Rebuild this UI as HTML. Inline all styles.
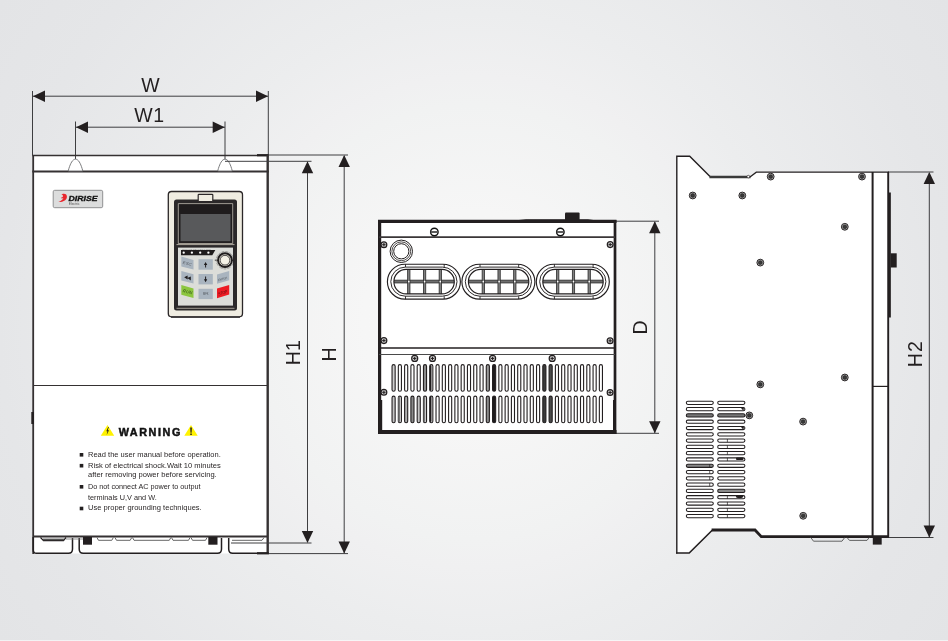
<!DOCTYPE html>
<html lang="en">
<head>
<meta charset="utf-8">
<title>Dimension drawing</title>
<style>
html,body{margin:0;padding:0;background:#ececed;}
body{width:948px;height:641px;overflow:hidden;font-family:"Liberation Sans",Arial,sans-serif;}
svg{display:block;will-change:transform;}
</style>
</head>
<body>
<svg width="948" height="641" viewBox="0 0 948 641">
<defs>
<radialGradient id="bg" gradientUnits="userSpaceOnUse" cx="474" cy="322" r="572">
<stop offset="0" stop-color="#f7f7f7"/>
<stop offset="0.194" stop-color="#f6f6f6"/>
<stop offset="0.38" stop-color="#f1f2f2"/>
<stop offset="0.43" stop-color="#f0f0f1"/>
<stop offset="0.54" stop-color="#ecedee"/>
<stop offset="0.83" stop-color="#e5e6e8"/>
<stop offset="1" stop-color="#e3e4e6"/>
</radialGradient>
</defs>
<rect x="0" y="0" width="948" height="641" fill="url(#bg)" stroke="none" stroke-width="1" rx="0" />
<rect x="0" y="640" width="948" height="1" fill="#fff" stroke="none" stroke-width="1" rx="0" opacity="0.55"/>
<g id="front">
<rect x="33" y="155.5" width="235" height="398" fill="#fff" stroke="none" stroke-width="1" rx="0" />
<line x1="32.5" y1="91" x2="32.5" y2="155" stroke="#3e3e40" stroke-width="1" />
<line x1="268.3" y1="91" x2="268.3" y2="155" stroke="#3e3e40" stroke-width="1" />
<line x1="33" y1="96.2" x2="268" y2="96.2" stroke="#3e3e40" stroke-width="1" />
<polygon points="33,96.2 45,90.5 45,101.9" fill="#231f20" stroke="none" stroke-width="1"/>
<polygon points="268,96.2 256,90.5 256,101.9" fill="#231f20" stroke="none" stroke-width="1"/>
<line x1="75.5" y1="121.5" x2="75.5" y2="159" stroke="#3e3e40" stroke-width="1" />
<line x1="225" y1="121.5" x2="225" y2="159" stroke="#3e3e40" stroke-width="1" />
<line x1="76" y1="127.2" x2="225" y2="127.2" stroke="#3e3e40" stroke-width="1" />
<polygon points="76,127.2 88,121.5 88,132.9" fill="#231f20" stroke="none" stroke-width="1"/>
<polygon points="224.7,127.2 212.7,121.5 212.7,132.9" fill="#231f20" stroke="none" stroke-width="1"/>
<line x1="32.3" y1="155.5" x2="268.8" y2="155.5" stroke="#353132" stroke-width="1.6" />
<line x1="257" y1="155.2" x2="268.8" y2="155.2" stroke="#231f20" stroke-width="2.2" />
<line x1="32.3" y1="171.5" x2="268.8" y2="171.5" stroke="#353132" stroke-width="1.8" />
<line x1="33.2" y1="155" x2="33.2" y2="554" stroke="#353132" stroke-width="1.8" />
<line x1="267.7" y1="155" x2="267.7" y2="554" stroke="#353132" stroke-width="2.4" />
<line x1="33" y1="385.5" x2="268" y2="385.5" stroke="#353132" stroke-width="1.2" />
<line x1="33" y1="536.5" x2="268" y2="536.5" stroke="#353132" stroke-width="2.2" />
<line x1="32.6" y1="412" x2="32.6" y2="424" stroke="#231f20" stroke-width="2.6" />
<path d="M68.2,171 L68.9,168.5 C70.5,163.5 72.5,159.2 75.5,159.2 C78.5,159.2 80.5,163.5 82.1,168.5 L82.8,171 Z" fill="#fff" stroke="#6d6e70" stroke-width="0.9"/>
<path d="M217.7,171 L218.4,168.5 C220,163.5 222,159.2 225,159.2 C228,159.2 230,163.5 231.6,168.5 L232.3,171 Z" fill="#fff" stroke="#6d6e70" stroke-width="0.9"/>
<line x1="225" y1="161.3" x2="311.5" y2="161.3" stroke="#3e3e40" stroke-width="1" />
<line x1="268" y1="155" x2="348" y2="155" stroke="#3e3e40" stroke-width="1" />
<line x1="307.5" y1="162" x2="307.5" y2="542" stroke="#3e3e40" stroke-width="1" />
<line x1="344.2" y1="156" x2="344.2" y2="553" stroke="#3e3e40" stroke-width="1" />
<polygon points="307.5,161.3 301.8,173.3 313.2,173.3" fill="#231f20" stroke="none" stroke-width="1"/>
<polygon points="344.2,155 338.5,167 349.9,167" fill="#231f20" stroke="none" stroke-width="1"/>
<line x1="231" y1="543" x2="311.5" y2="543" stroke="#3e3e40" stroke-width="1" />
<line x1="268" y1="553.6" x2="348" y2="553.6" stroke="#3e3e40" stroke-width="1" />
<polygon points="307.5,543 301.8,531 313.2,531" fill="#231f20" stroke="none" stroke-width="1"/>
<polygon points="344.2,553.6 338.5,541.6 349.9,541.6" fill="#231f20" stroke="none" stroke-width="1"/>
<path d="M33.2,537 V550 Q33.2,553.3 36.5,553.3 H68.5 Q72.5,553.3 72.5,549 V538" fill="none" stroke="#231f20" stroke-width="1.5"/>
<path d="M79.2,538 V549 Q79.2,553.3 83.2,553.3 H217.5 Q221.5,553.3 221.5,549 V538" fill="none" stroke="#231f20" stroke-width="1.5"/>
<path d="M228.7,538 V549 Q228.7,553.3 232.7,553.3 H268" fill="none" stroke="#231f20" stroke-width="1.5"/>
<line x1="257" y1="553.3" x2="268.8" y2="553.3" stroke="#231f20" stroke-width="2.2" />
<path d="M40.5,537.5 L43.5,540.6 H63.5 L66,537.5" fill="none" stroke="#231f20" stroke-width="1.2"/>
<path d="M43,539.4 H64" fill="none" stroke="#555" stroke-width="1.6"/>
<path d="M97,537.6 L98.5,540.3 H111.8 L113.3,537.6" fill="none" stroke="#555" stroke-width="0.9"/>
<path d="M115,537.6 L116.5,540.3 H130.2 L131.7,537.6" fill="none" stroke="#555" stroke-width="0.9"/>
<path d="M132.5,537.6 L134.0,540.3 H169.3 L170.8,537.6" fill="none" stroke="#555" stroke-width="0.9"/>
<path d="M171.5,537.6 L173.0,540.3 H188.5 L190,537.6" fill="none" stroke="#555" stroke-width="0.9"/>
<path d="M191,537.6 L192.5,540.3 H205.5 L207,537.6" fill="none" stroke="#555" stroke-width="0.9"/>
<path d="M232,540.3 H262 L264,537.6" fill="none" stroke="#555" stroke-width="0.9"/>
<line x1="66" y1="539" x2="83" y2="539" stroke="#777" stroke-width="0.8" />
<rect x="83" y="537" width="9" height="7.7" fill="#231f20" stroke="none" stroke-width="1" rx="0" />
<rect x="208.3" y="537" width="9.2" height="7.7" fill="#231f20" stroke="none" stroke-width="1" rx="0" />
<rect x="53.2" y="190.3" width="49.5" height="17.4" fill="#dcdddd" stroke="#8f9092" stroke-width="1" rx="1.5" />
<path d="M62.3,194 C65.5,193.2 67.6,195 66.8,197.8 C66,200.6 62.5,202.4 58.4,202 C60.8,201.2 62.8,199.8 63.4,198 C62.6,198.6 61.2,198.6 60.8,197.8 C62.4,197.6 63.4,196.4 62.9,195.4 C62.6,194.8 62,194.4 61.2,194.6 Z" fill="#e8262d"/>
<text x="68.6" y="201.3" font-family="Liberation Sans, Arial, sans-serif" font-weight="bold" font-style="italic" font-size="7" textLength="29" lengthAdjust="spacingAndGlyphs" fill="#111" stroke="#111" stroke-width="0.3">DIRISE</text>
<text x="68.8" y="204.9" font-family="Liberation Sans, Arial, sans-serif" font-size="3.1" textLength="10.8" lengthAdjust="spacingAndGlyphs" fill="#555">Electric</text>
<rect x="168.3" y="191.5" width="74.2" height="125.3" fill="#efece1" stroke="#2b2728" stroke-width="1.3" rx="3.2" />
<line x1="171" y1="317.2" x2="240" y2="317.2" stroke="#2b2728" stroke-width="1.2" />
<rect x="174" y="199.4" width="63" height="111" fill="#2b2829" stroke="none" stroke-width="1" rx="2.5" />
<rect x="198.2" y="194.3" width="14.6" height="7.2" fill="#efece1" stroke="#2b2728" stroke-width="1.2" rx="0.8" />
<path d="M178.3,243.5 V203.6 H232.7 V243.5 Z" fill="none" stroke="#cfcabd" stroke-width="0.7"/>
<rect x="179" y="204.6" width="53" height="38" fill="#1f1c1d" stroke="none" stroke-width="1" rx="0" />
<rect x="180.5" y="214" width="50" height="27.2" fill="#58595b" stroke="none" stroke-width="1" rx="0" />
<line x1="176.5" y1="244.6" x2="234.5" y2="244.6" stroke="#bdb8ab" stroke-width="0.9" />
<rect x="178" y="247.6" width="55" height="58" fill="#dcddd9" stroke="none" stroke-width="1" rx="0" />
<line x1="176.5" y1="308.3" x2="234.5" y2="308.3" stroke="#bdb8ab" stroke-width="0.8" />
<polygon points="181,250 215.3,250 212.3,255.2 181,255.2" fill="#1f1c1d" stroke="none" stroke-width="1"/>
<circle cx="183.7" cy="252.7" r="1.15" fill="#fff"/>
<circle cx="191.9" cy="252.7" r="1.15" fill="#fff"/>
<circle cx="200.2" cy="252.7" r="1.15" fill="#fff"/>
<circle cx="208.4" cy="252.7" r="1.15" fill="#fff"/>
<text x="182" y="249.6" font-family="Liberation Sans, Arial, sans-serif" font-size="1.8" textLength="29" lengthAdjust="spacingAndGlyphs" fill="#8a8a8a">RUN FWD REV LOCAL TRIP</text>
<circle cx="225" cy="260.2" r="8.7" fill="none" stroke="#1f1c1d" stroke-width="0.7" stroke-dasharray="0.5 0.9"/>
<circle cx="225" cy="260.2" r="7.9" fill="#1f1c1d"/>
<circle cx="225" cy="260.2" r="5.9" fill="#efece1"/>
<circle cx="225" cy="260.2" r="4.9" fill="none" stroke="#1f1c1d" stroke-width="0.8"/>
<circle cx="225" cy="260.2" r="3.7" fill="#f4f1e6"/>
<line x1="214.8" y1="260.2" x2="216.6" y2="260.2" stroke="#1f1c1d" stroke-width="0.8" />
<polygon points="181.3,256.5 193.5,260 193.5,269.6 181.3,266.6" fill="#a9b4bf" stroke="none" stroke-width="1"/>
<polygon points="181.3,271 193.5,274.2 193.5,283.6 181.3,280.6" fill="#a9b4bf" stroke="none" stroke-width="1"/>
<polygon points="181.3,285 193.5,288.6 193.5,298 181.3,294.8" fill="#8cc63f" stroke="none" stroke-width="1"/>
<rect x="198.5" y="259.2" width="14.3" height="10.5" fill="#a9b4bf" stroke="none" stroke-width="1" rx="0" />
<rect x="198.5" y="274" width="14.3" height="10.4" fill="#a9b4bf" stroke="none" stroke-width="1" rx="0" />
<rect x="198.5" y="288.8" width="14.3" height="10.3" fill="#a9b4bf" stroke="none" stroke-width="1" rx="0" />
<polygon points="217,274.6 229.2,271 229.2,280.2 217,283.8" fill="#a9b4bf" stroke="none" stroke-width="1"/>
<polygon points="217,288.6 229.2,285 229.2,294.5 217,298.2" fill="#ed1c24" stroke="none" stroke-width="1"/>
<text transform="translate(182.6,263.6) rotate(15)" font-family="Liberation Sans, Arial, sans-serif" font-size="3.6" font-style="italic" textLength="9" lengthAdjust="spacingAndGlyphs" fill="#4a4f55">ESC</text>
<text transform="translate(182.6,291.9) rotate(15)" font-family="Liberation Sans, Arial, sans-serif" font-size="4.4" font-style="italic" textLength="9.4" lengthAdjust="spacingAndGlyphs" fill="#2f4a17">RUN</text>
<text transform="translate(218.2,281.3) rotate(-16)" font-family="Liberation Sans, Arial, sans-serif" font-size="3.1" textLength="9.6" lengthAdjust="spacingAndGlyphs" fill="#4a4f55">ENTER</text>
<text transform="translate(218.4,295.4) rotate(-16)" font-family="Liberation Sans, Arial, sans-serif" font-size="4.2" font-style="italic" textLength="9.6" lengthAdjust="spacingAndGlyphs" fill="#5a0d10">STOP</text>
<text x="203" y="295.2" font-family="Liberation Sans, Arial, sans-serif" font-size="2.8" textLength="5.4" lengthAdjust="spacingAndGlyphs" fill="#4a4f55">MFK</text>
<path d="M205.6,262 L207.3,265 H206.1 V267.6 H205.1 V265 H203.9 Z" fill="#1f1c1d"/>
<path d="M205.6,282.2 L207.3,279.2 H206.1 V276.4 H205.1 V279.2 H203.9 Z" fill="#1f1c1d"/>
<path d="M184.2,277.2 L187.6,275.6 V279.6 Z M187.4,278 L190.8,276.4 V280.4 Z" fill="#1f1c1d"/>
<polygon points="107.5,425 114.2,435.8 100.8,435.8" fill="#fff200" stroke="none" stroke-width="1"/>
<polygon points="191,425 197.7,435.8 184.3,435.8" fill="#fff200" stroke="none" stroke-width="1"/>
<path d="M108.2,426.9 L106.3,431.3 H107.5 L106.6,434.9 L109,430.3 H107.7 L108.9,426.9 Z" fill="#231f20"/>
<path d="M190.2,427.6 H191.9 L191.6,432.7 H190.5 Z M190.3,433.4 H191.8 V434.9 H190.3 Z" fill="#231f20"/>
<text x="118.7" y="435.9" font-family="Liberation Sans, Arial, sans-serif" font-weight="bold" font-size="10.8" textLength="61.6" lengthAdjust="spacing" fill="#111" stroke="#111" stroke-width="0.5">WARNING</text>
<rect x="79.7" y="453.0" width="3.6" height="3.6" fill="#231f20" stroke="none" stroke-width="1" rx="0" />
<text x="88" y="456.7" font-family="Liberation Sans, Arial, sans-serif" font-size="7.6" textLength="132.8" lengthAdjust="spacingAndGlyphs" fill="#2a2627">Read the user manual before operation.</text>
<rect x="79.7" y="463.90000000000003" width="3.6" height="3.6" fill="#231f20" stroke="none" stroke-width="1" rx="0" />
<text x="88" y="467.6" font-family="Liberation Sans, Arial, sans-serif" font-size="7.6" textLength="132.8" lengthAdjust="spacingAndGlyphs" fill="#2a2627">Risk of electrical shock.Wait 10 minutes</text>
<text x="88" y="477.4" font-family="Liberation Sans, Arial, sans-serif" font-size="7.6" textLength="128.7" lengthAdjust="spacingAndGlyphs" fill="#2a2627">after removing power before servicing.</text>
<rect x="79.7" y="485.0" width="3.6" height="3.6" fill="#231f20" stroke="none" stroke-width="1" rx="0" />
<text x="88" y="488.7" font-family="Liberation Sans, Arial, sans-serif" font-size="7.6" textLength="112.5" lengthAdjust="spacingAndGlyphs" fill="#2a2627">Do not connect AC power to output</text>
<text x="88" y="499.6" font-family="Liberation Sans, Arial, sans-serif" font-size="7.6" textLength="68.7" lengthAdjust="spacingAndGlyphs" fill="#2a2627">terminals U,V and W.</text>
<rect x="79.7" y="506.7" width="3.6" height="3.6" fill="#231f20" stroke="none" stroke-width="1" rx="0" />
<text x="88" y="510.4" font-family="Liberation Sans, Arial, sans-serif" font-size="7.6" textLength="113.7" lengthAdjust="spacingAndGlyphs" fill="#2a2627">Use proper grounding techniques.</text>
<text x="150.5" y="91.7" text-anchor="middle" font-family="Liberation Sans, Arial, sans-serif" font-size="19.5" fill="#231f20">W</text>
<text x="149.6" y="122.2" text-anchor="middle" font-family="Liberation Sans, Arial, sans-serif" font-size="19.5" fill="#231f20" letter-spacing="0.6">W1</text>
<text transform="translate(300,365.2) rotate(-90)" font-family="Liberation Sans, Arial, sans-serif" font-size="19.5" fill="#231f20">H1</text>
<text transform="translate(336.4,361.5) rotate(-90)" font-family="Liberation Sans, Arial, sans-serif" font-size="19.5" fill="#231f20">H</text>
</g>
<g id="bottom">
<rect x="379" y="221" width="236" height="211" fill="#fff" stroke="none" stroke-width="1" rx="0" />
<line x1="616" y1="221.2" x2="659" y2="221.2" stroke="#3e3e40" stroke-width="1" />
<line x1="616" y1="433.3" x2="659" y2="433.3" stroke="#3e3e40" stroke-width="1" />
<line x1="654.8" y1="222" x2="654.8" y2="433" stroke="#3e3e40" stroke-width="1" />
<polygon points="654.8,221.2 649.0999999999999,233.2 660.5,233.2" fill="#231f20" stroke="none" stroke-width="1"/>
<polygon points="654.8,433.3 649.0999999999999,421.3 660.5,421.3" fill="#231f20" stroke="none" stroke-width="1"/>
<text transform="translate(647.2,334.5) rotate(-90)" font-family="Liberation Sans, Arial, sans-serif" font-size="19.5" fill="#231f20">D</text>
<line x1="378" y1="221.3" x2="616.5" y2="221.3" stroke="#231f20" stroke-width="3.2" />
<polygon points="514,220.4 526,219.3 588,219.3 597,220.4" fill="#231f20" stroke="none" stroke-width="1"/>
<rect x="565" y="212.6" width="14.6" height="8" fill="#231f20" stroke="none" stroke-width="1" rx="1" />
<line x1="379.6" y1="220" x2="379.6" y2="434" stroke="#231f20" stroke-width="3.2" />
<line x1="380.2" y1="400" x2="380.2" y2="434" stroke="#231f20" stroke-width="4" />
<line x1="615" y1="220" x2="615" y2="434" stroke="#231f20" stroke-width="2.7" />
<line x1="613.6" y1="400" x2="613.6" y2="434" stroke="#231f20" stroke-width="1.2" />
<line x1="378" y1="432" x2="616.5" y2="432" stroke="#231f20" stroke-width="3.8" />
<line x1="379" y1="237.1" x2="615" y2="237.1" stroke="#3a3637" stroke-width="1.7" />
<line x1="379" y1="348" x2="615" y2="348" stroke="#231f20" stroke-width="1.6" />
<line x1="379" y1="354.5" x2="615" y2="354.5" stroke="#4a4a4a" stroke-width="1.1" />
<circle cx="434.35" cy="232.0" r="3.75" fill="#fff" stroke="#111" stroke-width="1.4"/>
<line x1="430.6" y1="232.0" x2="438.1" y2="232.0" stroke="#555" stroke-width="1.9" />
<circle cx="560.35" cy="232.0" r="3.75" fill="#fff" stroke="#111" stroke-width="1.4"/>
<line x1="556.6" y1="232.0" x2="564.1" y2="232.0" stroke="#555" stroke-width="1.9" />
<circle cx="383.9" cy="244.7" r="2.9" fill="#cfcfcf" stroke="#231f20" stroke-width="1.25"/>
<line x1="382.2" y1="244.7" x2="385.59999999999997" y2="244.7" stroke="#231f20" stroke-width="1.05" />
<line x1="383.9" y1="243.0" x2="383.9" y2="246.39999999999998" stroke="#231f20" stroke-width="1.05" />
<circle cx="383.9" cy="340.6" r="2.9" fill="#cfcfcf" stroke="#231f20" stroke-width="1.25"/>
<line x1="382.2" y1="340.6" x2="385.59999999999997" y2="340.6" stroke="#231f20" stroke-width="1.05" />
<line x1="383.9" y1="338.90000000000003" x2="383.9" y2="342.3" stroke="#231f20" stroke-width="1.05" />
<circle cx="383.9" cy="392.3" r="2.9" fill="#cfcfcf" stroke="#231f20" stroke-width="1.25"/>
<line x1="382.2" y1="392.3" x2="385.59999999999997" y2="392.3" stroke="#231f20" stroke-width="1.05" />
<line x1="383.9" y1="390.6" x2="383.9" y2="394.0" stroke="#231f20" stroke-width="1.05" />
<circle cx="610.2" cy="244.6" r="2.9" fill="#cfcfcf" stroke="#231f20" stroke-width="1.25"/>
<line x1="608.5" y1="244.6" x2="611.9000000000001" y2="244.6" stroke="#231f20" stroke-width="1.05" />
<line x1="610.2" y1="242.9" x2="610.2" y2="246.29999999999998" stroke="#231f20" stroke-width="1.05" />
<circle cx="610.1" cy="340.8" r="2.9" fill="#cfcfcf" stroke="#231f20" stroke-width="1.25"/>
<line x1="608.4" y1="340.8" x2="611.8000000000001" y2="340.8" stroke="#231f20" stroke-width="1.05" />
<line x1="610.1" y1="339.1" x2="610.1" y2="342.5" stroke="#231f20" stroke-width="1.05" />
<circle cx="610.1" cy="392.5" r="2.9" fill="#cfcfcf" stroke="#231f20" stroke-width="1.25"/>
<line x1="608.4" y1="392.5" x2="611.8000000000001" y2="392.5" stroke="#231f20" stroke-width="1.05" />
<line x1="610.1" y1="390.8" x2="610.1" y2="394.2" stroke="#231f20" stroke-width="1.05" />
<circle cx="414.7" cy="358.4" r="3.0" fill="#cfcfcf" stroke="#231f20" stroke-width="1.25"/>
<line x1="413.0" y1="358.4" x2="416.4" y2="358.4" stroke="#231f20" stroke-width="1.05" />
<line x1="414.7" y1="356.7" x2="414.7" y2="360.09999999999997" stroke="#231f20" stroke-width="1.05" />
<circle cx="432.5" cy="358.4" r="3.0" fill="#cfcfcf" stroke="#231f20" stroke-width="1.25"/>
<line x1="430.8" y1="358.4" x2="434.2" y2="358.4" stroke="#231f20" stroke-width="1.05" />
<line x1="432.5" y1="356.7" x2="432.5" y2="360.09999999999997" stroke="#231f20" stroke-width="1.05" />
<circle cx="492.6" cy="358.4" r="3.0" fill="#cfcfcf" stroke="#231f20" stroke-width="1.25"/>
<line x1="490.90000000000003" y1="358.4" x2="494.3" y2="358.4" stroke="#231f20" stroke-width="1.05" />
<line x1="492.6" y1="356.7" x2="492.6" y2="360.09999999999997" stroke="#231f20" stroke-width="1.05" />
<circle cx="552.2" cy="358.4" r="3.0" fill="#cfcfcf" stroke="#231f20" stroke-width="1.25"/>
<line x1="550.5" y1="358.4" x2="553.9000000000001" y2="358.4" stroke="#231f20" stroke-width="1.05" />
<line x1="552.2" y1="356.7" x2="552.2" y2="360.09999999999997" stroke="#231f20" stroke-width="1.05" />
<circle cx="401.3" cy="251.3" r="11.2" fill="#fff" stroke="#231f20" stroke-width="1"/>
<circle cx="401.3" cy="251.3" r="9.4" fill="none" stroke="#231f20" stroke-width="0.8"/>
<circle cx="401.3" cy="251.3" r="7.6" fill="none" stroke="#231f20" stroke-width="1"/>
<rect x="387.4" y="264.2" width="73.0" height="34.9" rx="17.45" fill="#fff" stroke="#231f20" stroke-width="1.15"/>
<rect x="390.79999999999995" y="267.09999999999997" width="66.2" height="29.099999999999998" rx="14.549999999999999" fill="none" stroke="#231f20" stroke-width="0.95"/>
<line x1="405.5" y1="264.2" x2="405.5" y2="267.09999999999997" stroke="#231f20" stroke-width="0.9" />
<line x1="405.5" y1="296.2" x2="405.5" y2="299.09999999999997" stroke="#231f20" stroke-width="0.9" />
<line x1="444.2" y1="264.2" x2="444.2" y2="267.09999999999997" stroke="#231f20" stroke-width="0.9" />
<line x1="444.2" y1="296.2" x2="444.2" y2="299.09999999999997" stroke="#231f20" stroke-width="0.9" />
<clipPath id="c387"><rect x="393.9" y="269.4" width="60.4" height="24.5" rx="12.25"/></clipPath>
<g clip-path="url(#c387)">
<rect x="392.9" y="280.15" width="62.4" height="2.8" fill="#6e6e6e" stroke="#2a2a2a" stroke-width="0.8" rx="0" />
<rect x="407.65" y="268.4" width="2.3" height="26.5" fill="#808080" stroke="#2a2a2a" stroke-width="0.8" rx="0" />
<rect x="423.45" y="268.4" width="2.3" height="26.5" fill="#808080" stroke="#2a2a2a" stroke-width="0.8" rx="0" />
<rect x="439.15" y="268.4" width="2.3" height="26.5" fill="#808080" stroke="#2a2a2a" stroke-width="0.8" rx="0" />
<circle cx="408.79999999999995" cy="281.54999999999995" r="0.85" fill="#fff"/>
<circle cx="424.59999999999997" cy="281.54999999999995" r="0.85" fill="#fff"/>
<circle cx="440.29999999999995" cy="281.54999999999995" r="0.85" fill="#fff"/>
</g>
<rect x="393.9" y="269.4" width="60.4" height="24.5" rx="12.25" fill="none" stroke="#231f20" stroke-width="1.15"/>
<rect x="461.9" y="264.2" width="73.0" height="34.9" rx="17.45" fill="#fff" stroke="#231f20" stroke-width="1.15"/>
<rect x="465.29999999999995" y="267.09999999999997" width="66.2" height="29.099999999999998" rx="14.549999999999999" fill="none" stroke="#231f20" stroke-width="0.95"/>
<line x1="480.0" y1="264.2" x2="480.0" y2="267.09999999999997" stroke="#231f20" stroke-width="0.9" />
<line x1="480.0" y1="296.2" x2="480.0" y2="299.09999999999997" stroke="#231f20" stroke-width="0.9" />
<line x1="518.6999999999999" y1="264.2" x2="518.6999999999999" y2="267.09999999999997" stroke="#231f20" stroke-width="0.9" />
<line x1="518.6999999999999" y1="296.2" x2="518.6999999999999" y2="299.09999999999997" stroke="#231f20" stroke-width="0.9" />
<clipPath id="c461"><rect x="468.4" y="269.4" width="60.4" height="24.5" rx="12.25"/></clipPath>
<g clip-path="url(#c461)">
<rect x="467.4" y="280.15" width="62.4" height="2.8" fill="#6e6e6e" stroke="#2a2a2a" stroke-width="0.8" rx="0" />
<rect x="482.15" y="268.4" width="2.3" height="26.5" fill="#808080" stroke="#2a2a2a" stroke-width="0.8" rx="0" />
<rect x="497.95" y="268.4" width="2.3" height="26.5" fill="#808080" stroke="#2a2a2a" stroke-width="0.8" rx="0" />
<rect x="513.65" y="268.4" width="2.3" height="26.5" fill="#808080" stroke="#2a2a2a" stroke-width="0.8" rx="0" />
<circle cx="483.29999999999995" cy="281.54999999999995" r="0.85" fill="#fff"/>
<circle cx="499.09999999999997" cy="281.54999999999995" r="0.85" fill="#fff"/>
<circle cx="514.8" cy="281.54999999999995" r="0.85" fill="#fff"/>
</g>
<rect x="468.4" y="269.4" width="60.4" height="24.5" rx="12.25" fill="none" stroke="#231f20" stroke-width="1.15"/>
<rect x="536.3" y="264.2" width="73.0" height="34.9" rx="17.45" fill="#fff" stroke="#231f20" stroke-width="1.15"/>
<rect x="539.6999999999999" y="267.09999999999997" width="66.2" height="29.099999999999998" rx="14.549999999999999" fill="none" stroke="#231f20" stroke-width="0.95"/>
<line x1="554.4" y1="264.2" x2="554.4" y2="267.09999999999997" stroke="#231f20" stroke-width="0.9" />
<line x1="554.4" y1="296.2" x2="554.4" y2="299.09999999999997" stroke="#231f20" stroke-width="0.9" />
<line x1="593.0999999999999" y1="264.2" x2="593.0999999999999" y2="267.09999999999997" stroke="#231f20" stroke-width="0.9" />
<line x1="593.0999999999999" y1="296.2" x2="593.0999999999999" y2="299.09999999999997" stroke="#231f20" stroke-width="0.9" />
<clipPath id="c536"><rect x="542.8" y="269.4" width="60.4" height="24.5" rx="12.25"/></clipPath>
<g clip-path="url(#c536)">
<rect x="541.8" y="280.15" width="62.4" height="2.8" fill="#6e6e6e" stroke="#2a2a2a" stroke-width="0.8" rx="0" />
<rect x="556.55" y="268.4" width="2.3" height="26.5" fill="#808080" stroke="#2a2a2a" stroke-width="0.8" rx="0" />
<rect x="572.35" y="268.4" width="2.3" height="26.5" fill="#808080" stroke="#2a2a2a" stroke-width="0.8" rx="0" />
<rect x="588.05" y="268.4" width="2.3" height="26.5" fill="#808080" stroke="#2a2a2a" stroke-width="0.8" rx="0" />
<circle cx="557.6999999999999" cy="281.54999999999995" r="0.85" fill="#fff"/>
<circle cx="573.5" cy="281.54999999999995" r="0.85" fill="#fff"/>
<circle cx="589.1999999999999" cy="281.54999999999995" r="0.85" fill="#fff"/>
</g>
<rect x="542.8" y="269.4" width="60.4" height="24.5" rx="12.25" fill="none" stroke="#231f20" stroke-width="1.15"/>
<rect x="392.05" y="364.6" width="3.1" height="26.7" rx="1.55" fill="#cfcfcf" stroke="#231f20" stroke-width="1.1"/>
<rect x="392.05" y="396.1" width="3.1" height="26.6" rx="1.55" fill="#c4c4c4" stroke="#231f20" stroke-width="1.1"/>
<rect x="398.33" y="364.6" width="3.1" height="26.7" rx="1.55" fill="#fff" stroke="#231f20" stroke-width="1.1"/>
<rect x="398.33" y="396.1" width="3.1" height="26.6" rx="1.55" fill="#e4e4e4" stroke="#231f20" stroke-width="1.1"/>
<rect x="398.33" y="396.7" width="1.75" height="25.4" rx="0.8" fill="#777"/>
<rect x="404.61" y="364.6" width="3.1" height="26.7" rx="1.55" fill="#fff" stroke="#231f20" stroke-width="1.1"/>
<rect x="404.61" y="396.1" width="3.1" height="26.6" rx="1.55" fill="#b0b0b0" stroke="#231f20" stroke-width="1.1"/>
<rect x="410.90" y="364.6" width="3.1" height="26.7" rx="1.55" fill="#fff" stroke="#231f20" stroke-width="1.1"/>
<rect x="410.90" y="396.1" width="3.1" height="26.6" rx="1.55" fill="#8a8a8a" stroke="#231f20" stroke-width="1.1"/>
<rect x="417.18" y="364.6" width="3.1" height="26.7" rx="1.55" fill="#fff" stroke="#231f20" stroke-width="1.1"/>
<rect x="417.18" y="396.1" width="3.1" height="26.6" rx="1.55" fill="#c4c4c4" stroke="#231f20" stroke-width="1.1"/>
<rect x="423.46" y="364.6" width="3.1" height="26.7" rx="1.55" fill="#8a8a8a" stroke="#231f20" stroke-width="1.1"/>
<rect x="423.46" y="396.1" width="3.1" height="26.6" rx="1.55" fill="#e0e0e0" stroke="#231f20" stroke-width="1.1"/>
<rect x="423.46" y="396.7" width="1.75" height="25.4" rx="0.8" fill="#777"/>
<rect x="429.74" y="364.6" width="3.1" height="26.7" rx="1.55" fill="#fff" stroke="#231f20" stroke-width="1.1"/>
<rect x="429.74" y="396.1" width="3.1" height="26.6" rx="1.55" fill="#fff" stroke="#231f20" stroke-width="1.1"/>
<rect x="429.74" y="365.2" width="1.75" height="25.5" rx="0.8" fill="#1f1c1d"/>
<rect x="429.74" y="396.7" width="1.75" height="25.4" rx="0.8" fill="#1f1c1d"/>
<rect x="436.02" y="364.6" width="3.1" height="26.7" rx="1.55" fill="#fff" stroke="#231f20" stroke-width="1.1"/>
<rect x="436.02" y="396.1" width="3.1" height="26.6" rx="1.55" fill="#fff" stroke="#231f20" stroke-width="1.1"/>
<rect x="442.30" y="364.6" width="3.1" height="26.7" rx="1.55" fill="#fff" stroke="#231f20" stroke-width="1.1"/>
<rect x="442.30" y="396.1" width="3.1" height="26.6" rx="1.55" fill="#fff" stroke="#231f20" stroke-width="1.1"/>
<rect x="448.59" y="364.6" width="3.1" height="26.7" rx="1.55" fill="#fff" stroke="#231f20" stroke-width="1.1"/>
<rect x="448.59" y="396.1" width="3.1" height="26.6" rx="1.55" fill="#fff" stroke="#231f20" stroke-width="1.1"/>
<rect x="454.87" y="364.6" width="3.1" height="26.7" rx="1.55" fill="#fff" stroke="#231f20" stroke-width="1.1"/>
<rect x="454.87" y="396.1" width="3.1" height="26.6" rx="1.55" fill="#fff" stroke="#231f20" stroke-width="1.1"/>
<rect x="461.15" y="364.6" width="3.1" height="26.7" rx="1.55" fill="#fff" stroke="#231f20" stroke-width="1.1"/>
<rect x="461.15" y="396.1" width="3.1" height="26.6" rx="1.55" fill="#fff" stroke="#231f20" stroke-width="1.1"/>
<rect x="467.43" y="364.6" width="3.1" height="26.7" rx="1.55" fill="#fff" stroke="#231f20" stroke-width="1.1"/>
<rect x="467.43" y="396.1" width="3.1" height="26.6" rx="1.55" fill="#fff" stroke="#231f20" stroke-width="1.1"/>
<rect x="473.71" y="364.6" width="3.1" height="26.7" rx="1.55" fill="#fff" stroke="#231f20" stroke-width="1.1"/>
<rect x="473.71" y="396.1" width="3.1" height="26.6" rx="1.55" fill="#fff" stroke="#231f20" stroke-width="1.1"/>
<rect x="480.00" y="364.6" width="3.1" height="26.7" rx="1.55" fill="#fff" stroke="#231f20" stroke-width="1.1"/>
<rect x="480.00" y="396.1" width="3.1" height="26.6" rx="1.55" fill="#fff" stroke="#231f20" stroke-width="1.1"/>
<rect x="486.28" y="364.6" width="3.1" height="26.7" rx="1.55" fill="#9a9a9a" stroke="#231f20" stroke-width="1.1"/>
<rect x="486.28" y="396.1" width="3.1" height="26.6" rx="1.55" fill="#8a8a8a" stroke="#231f20" stroke-width="1.1"/>
<rect x="492.56" y="364.6" width="3.1" height="26.7" rx="1.55" fill="#1f1c1d" stroke="#231f20" stroke-width="1.1"/>
<rect x="492.56" y="396.1" width="3.1" height="26.6" rx="1.55" fill="#1f1c1d" stroke="#231f20" stroke-width="1.1"/>
<rect x="498.84" y="364.6" width="3.1" height="26.7" rx="1.55" fill="#fff" stroke="#231f20" stroke-width="1.1"/>
<rect x="498.84" y="396.1" width="3.1" height="26.6" rx="1.55" fill="#fff" stroke="#231f20" stroke-width="1.1"/>
<rect x="505.12" y="364.6" width="3.1" height="26.7" rx="1.55" fill="#fff" stroke="#231f20" stroke-width="1.1"/>
<rect x="505.12" y="396.1" width="3.1" height="26.6" rx="1.55" fill="#fff" stroke="#231f20" stroke-width="1.1"/>
<rect x="511.40" y="364.6" width="3.1" height="26.7" rx="1.55" fill="#fff" stroke="#231f20" stroke-width="1.1"/>
<rect x="511.40" y="396.1" width="3.1" height="26.6" rx="1.55" fill="#fff" stroke="#231f20" stroke-width="1.1"/>
<rect x="517.69" y="364.6" width="3.1" height="26.7" rx="1.55" fill="#fff" stroke="#231f20" stroke-width="1.1"/>
<rect x="517.69" y="396.1" width="3.1" height="26.6" rx="1.55" fill="#fff" stroke="#231f20" stroke-width="1.1"/>
<rect x="523.97" y="364.6" width="3.1" height="26.7" rx="1.55" fill="#fff" stroke="#231f20" stroke-width="1.1"/>
<rect x="523.97" y="396.1" width="3.1" height="26.6" rx="1.55" fill="#fff" stroke="#231f20" stroke-width="1.1"/>
<rect x="530.25" y="364.6" width="3.1" height="26.7" rx="1.55" fill="#fff" stroke="#231f20" stroke-width="1.1"/>
<rect x="530.25" y="396.1" width="3.1" height="26.6" rx="1.55" fill="#fff" stroke="#231f20" stroke-width="1.1"/>
<rect x="536.53" y="364.6" width="3.1" height="26.7" rx="1.55" fill="#fff" stroke="#231f20" stroke-width="1.1"/>
<rect x="536.53" y="396.1" width="3.1" height="26.6" rx="1.55" fill="#fff" stroke="#231f20" stroke-width="1.1"/>
<rect x="542.81" y="364.6" width="3.1" height="26.7" rx="1.55" fill="#3a3a3a" stroke="#231f20" stroke-width="1.1"/>
<rect x="542.81" y="396.1" width="3.1" height="26.6" rx="1.55" fill="#3a3a3a" stroke="#231f20" stroke-width="1.1"/>
<rect x="549.10" y="364.6" width="3.1" height="26.7" rx="1.55" fill="#4a4a4a" stroke="#231f20" stroke-width="1.1"/>
<rect x="549.10" y="396.1" width="3.1" height="26.6" rx="1.55" fill="#4a4a4a" stroke="#231f20" stroke-width="1.1"/>
<rect x="555.38" y="364.6" width="3.1" height="26.7" rx="1.55" fill="#fff" stroke="#231f20" stroke-width="1.1"/>
<rect x="555.38" y="396.1" width="3.1" height="26.6" rx="1.55" fill="#fff" stroke="#231f20" stroke-width="1.1"/>
<rect x="561.66" y="364.6" width="3.1" height="26.7" rx="1.55" fill="#fff" stroke="#231f20" stroke-width="1.1"/>
<rect x="561.66" y="396.1" width="3.1" height="26.6" rx="1.55" fill="#fff" stroke="#231f20" stroke-width="1.1"/>
<rect x="567.94" y="364.6" width="3.1" height="26.7" rx="1.55" fill="#fff" stroke="#231f20" stroke-width="1.1"/>
<rect x="567.94" y="396.1" width="3.1" height="26.6" rx="1.55" fill="#fff" stroke="#231f20" stroke-width="1.1"/>
<rect x="574.22" y="364.6" width="3.1" height="26.7" rx="1.55" fill="#fff" stroke="#231f20" stroke-width="1.1"/>
<rect x="574.22" y="396.1" width="3.1" height="26.6" rx="1.55" fill="#fff" stroke="#231f20" stroke-width="1.1"/>
<rect x="580.50" y="364.6" width="3.1" height="26.7" rx="1.55" fill="#fff" stroke="#231f20" stroke-width="1.1"/>
<rect x="580.50" y="396.1" width="3.1" height="26.6" rx="1.55" fill="#fff" stroke="#231f20" stroke-width="1.1"/>
<rect x="586.79" y="364.6" width="3.1" height="26.7" rx="1.55" fill="#fff" stroke="#231f20" stroke-width="1.1"/>
<rect x="586.79" y="396.1" width="3.1" height="26.6" rx="1.55" fill="#fff" stroke="#231f20" stroke-width="1.1"/>
<rect x="593.07" y="364.6" width="3.1" height="26.7" rx="1.55" fill="#fff" stroke="#231f20" stroke-width="1.1"/>
<rect x="593.07" y="396.1" width="3.1" height="26.6" rx="1.55" fill="#fff" stroke="#231f20" stroke-width="1.1"/>
<rect x="599.35" y="364.6" width="3.1" height="26.7" rx="1.55" fill="#fff" stroke="#231f20" stroke-width="1.1"/>
<rect x="599.35" y="396.1" width="3.1" height="26.6" rx="1.55" fill="#fff" stroke="#231f20" stroke-width="1.1"/>
</g>
<g id="side">
<path d="M676.8,156.2 H689.7 L710,177 H750 L756.3,171.8 H888 V536.6 H761.3 L755,529.8 H712.2 L689.2,553 H676.8 Z" fill="#fff"/>
<line x1="888" y1="172" x2="933.5" y2="172" stroke="#3e3e40" stroke-width="1" />
<line x1="888" y1="537.5" x2="933.5" y2="537.5" stroke="#3e3e40" stroke-width="1" />
<line x1="929.3" y1="173" x2="929.3" y2="537" stroke="#3e3e40" stroke-width="1" />
<polygon points="929.3,172 923.5999999999999,184 935.0,184" fill="#231f20" stroke="none" stroke-width="1"/>
<polygon points="929.3,537.5 923.5999999999999,525.5 935.0,525.5" fill="#231f20" stroke="none" stroke-width="1"/>
<text transform="translate(922,367.2) rotate(-90)" font-family="Liberation Sans, Arial, sans-serif" font-size="19.5" fill="#231f20" letter-spacing="1.2">H2</text>
<path d="M676.8,553.6 V156.2 H689.7 L710,176.6" fill="none" stroke="#231f20" stroke-width="1.4"/>
<path d="M709.4,177 H750.5" fill="none" stroke="#3a3a3a" stroke-width="2.6"/>
<path d="M750,177 L756.3,172.2 H889" fill="none" stroke="#231f20" stroke-width="1.25"/>
<circle cx="748.3" cy="176.6" r="1.3" fill="#fff" stroke="#231f20" stroke-width="0.6"/>
<path d="M676,553 H689.2 L712.2,530.3" fill="none" stroke="#231f20" stroke-width="1.6"/>
<path d="M711.6,530 H755 L761.3,536.7 H889" fill="none" stroke="#231f20" stroke-width="2.8" stroke-linejoin="miter"/>
<line x1="872.6" y1="172" x2="872.6" y2="537" stroke="#231f20" stroke-width="2" />
<line x1="888.2" y1="172" x2="888.2" y2="537" stroke="#231f20" stroke-width="1.9" />
<line x1="889.5" y1="192.5" x2="889.5" y2="317.5" stroke="#231f20" stroke-width="2.7" />
<line x1="872.6" y1="386.4" x2="888.2" y2="386.4" stroke="#231f20" stroke-width="1.2" />
<rect x="890.5" y="253.3" width="6.2" height="14.2" fill="#231f20" stroke="none" stroke-width="1" rx="0" />
<rect x="872.8" y="537.2" width="8.9" height="7.4" fill="#231f20" stroke="none" stroke-width="1" rx="0" />
<path d="M810.8,537.5 L813.5,541.2 H842 L844.7,537.5" fill="none" stroke="#555" stroke-width="0.9"/>
<path d="M847,537.5 L849.5,540.4 H867 L869.2,537.5" fill="none" stroke="#555" stroke-width="0.9"/>
<circle cx="692.7" cy="195.5" r="3.4" fill="#a8a8a8" stroke="#2a2627" stroke-width="1"/>
<circle cx="692.7" cy="195.5" r="1.9" fill="#3a3a3a" stroke="#1f1c1d" stroke-width="0.6"/>
<circle cx="742.3" cy="195.5" r="3.4" fill="#a8a8a8" stroke="#2a2627" stroke-width="1"/>
<circle cx="742.3" cy="195.5" r="1.9" fill="#3a3a3a" stroke="#1f1c1d" stroke-width="0.6"/>
<circle cx="770.7" cy="176.6" r="3.4" fill="#a8a8a8" stroke="#2a2627" stroke-width="1"/>
<circle cx="770.7" cy="176.6" r="1.9" fill="#3a3a3a" stroke="#1f1c1d" stroke-width="0.6"/>
<circle cx="862" cy="176.6" r="3.4" fill="#a8a8a8" stroke="#2a2627" stroke-width="1"/>
<circle cx="862" cy="176.6" r="1.9" fill="#3a3a3a" stroke="#1f1c1d" stroke-width="0.6"/>
<circle cx="844.8" cy="226.8" r="3.4" fill="#a8a8a8" stroke="#2a2627" stroke-width="1"/>
<circle cx="844.8" cy="226.8" r="1.9" fill="#3a3a3a" stroke="#1f1c1d" stroke-width="0.6"/>
<circle cx="760.3" cy="262.6" r="3.4" fill="#a8a8a8" stroke="#2a2627" stroke-width="1"/>
<circle cx="760.3" cy="262.6" r="1.9" fill="#3a3a3a" stroke="#1f1c1d" stroke-width="0.6"/>
<circle cx="760.3" cy="384.4" r="3.4" fill="#a8a8a8" stroke="#2a2627" stroke-width="1"/>
<circle cx="760.3" cy="384.4" r="1.9" fill="#3a3a3a" stroke="#1f1c1d" stroke-width="0.6"/>
<circle cx="844.8" cy="377.5" r="3.4" fill="#a8a8a8" stroke="#2a2627" stroke-width="1"/>
<circle cx="844.8" cy="377.5" r="1.9" fill="#3a3a3a" stroke="#1f1c1d" stroke-width="0.6"/>
<circle cx="749.3" cy="415.4" r="3.4" fill="#a8a8a8" stroke="#2a2627" stroke-width="1"/>
<circle cx="749.3" cy="415.4" r="1.9" fill="#3a3a3a" stroke="#1f1c1d" stroke-width="0.6"/>
<circle cx="803.1" cy="421.6" r="3.4" fill="#a8a8a8" stroke="#2a2627" stroke-width="1"/>
<circle cx="803.1" cy="421.6" r="1.9" fill="#3a3a3a" stroke="#1f1c1d" stroke-width="0.6"/>
<circle cx="803.2" cy="515.8" r="3.4" fill="#a8a8a8" stroke="#2a2627" stroke-width="1"/>
<circle cx="803.2" cy="515.8" r="1.9" fill="#3a3a3a" stroke="#1f1c1d" stroke-width="0.6"/>
<rect x="686.3" y="401.25" width="27.0" height="3.2" rx="1.6" fill="#fff" stroke="#231f20" stroke-width="1.05"/>
<rect x="717.7" y="401.25" width="27.2" height="3.2" rx="1.6" fill="#fff" stroke="#231f20" stroke-width="1.05"/>
<rect x="686.3" y="407.54" width="27.0" height="3.2" rx="1.6" fill="#fff" stroke="#231f20" stroke-width="1.05"/>
<rect x="717.7" y="407.54" width="27.2" height="3.2" rx="1.6" fill="#fff" stroke="#231f20" stroke-width="1.05"/>
<rect x="686.3" y="413.83" width="27.0" height="3.2" rx="1.6" fill="#777" stroke="#231f20" stroke-width="1.05"/>
<rect x="717.7" y="413.83" width="27.2" height="3.2" rx="1.6" fill="#777" stroke="#231f20" stroke-width="1.05"/>
<rect x="686.3" y="420.12" width="27.0" height="3.2" rx="1.6" fill="#fff" stroke="#231f20" stroke-width="1.05"/>
<rect x="717.7" y="420.12" width="27.2" height="3.2" rx="1.6" fill="#fff" stroke="#231f20" stroke-width="1.05"/>
<rect x="686.3" y="426.42" width="27.0" height="3.2" rx="1.6" fill="#fff" stroke="#231f20" stroke-width="1.05"/>
<rect x="717.7" y="426.42" width="27.2" height="3.2" rx="1.6" fill="#fff" stroke="#231f20" stroke-width="1.05"/>
<rect x="686.3" y="432.71" width="27.0" height="3.2" rx="1.6" fill="#fff" stroke="#231f20" stroke-width="1.05"/>
<rect x="717.7" y="432.71" width="27.2" height="3.2" rx="1.6" fill="#fff" stroke="#231f20" stroke-width="1.05"/>
<rect x="686.3" y="439.00" width="27.0" height="3.2" rx="1.6" fill="#fff" stroke="#231f20" stroke-width="1.05"/>
<rect x="717.7" y="439.00" width="27.2" height="3.2" rx="1.6" fill="#fff" stroke="#231f20" stroke-width="1.05"/>
<line x1="727.4" y1="439.0" x2="727.4" y2="442.20000000000005" stroke="#231f20" stroke-width="0.7" />
<rect x="686.3" y="445.29" width="27.0" height="3.2" rx="1.6" fill="#fff" stroke="#231f20" stroke-width="1.05"/>
<rect x="717.7" y="445.29" width="27.2" height="3.2" rx="1.6" fill="#fff" stroke="#231f20" stroke-width="1.05"/>
<line x1="727.4" y1="445.2916666666667" x2="727.4" y2="448.49166666666673" stroke="#231f20" stroke-width="0.7" />
<rect x="686.3" y="451.58" width="27.0" height="3.2" rx="1.6" fill="#fff" stroke="#231f20" stroke-width="1.05"/>
<rect x="717.7" y="451.58" width="27.2" height="3.2" rx="1.6" fill="#fff" stroke="#231f20" stroke-width="1.05"/>
<line x1="727.4" y1="451.5833333333333" x2="727.4" y2="454.78333333333336" stroke="#231f20" stroke-width="0.7" />
<rect x="686.3" y="457.88" width="27.0" height="3.2" rx="1.6" fill="#fff" stroke="#231f20" stroke-width="1.05"/>
<rect x="717.7" y="457.88" width="27.2" height="3.2" rx="1.6" fill="#fff" stroke="#231f20" stroke-width="1.05"/>
<line x1="727.4" y1="457.875" x2="727.4" y2="461.07500000000005" stroke="#231f20" stroke-width="0.7" />
<rect x="686.3" y="464.17" width="27.0" height="3.2" rx="1.6" fill="#888" stroke="#231f20" stroke-width="1.05"/>
<rect x="717.7" y="464.17" width="27.2" height="3.2" rx="1.6" fill="#fff" stroke="#231f20" stroke-width="1.05"/>
<line x1="709.7" y1="464.1666666666667" x2="709.7" y2="467.36666666666673" stroke="#231f20" stroke-width="0.7" />
<rect x="686.3" y="470.46" width="27.0" height="3.2" rx="1.6" fill="#fff" stroke="#231f20" stroke-width="1.05"/>
<rect x="717.7" y="470.46" width="27.2" height="3.2" rx="1.6" fill="#fff" stroke="#231f20" stroke-width="1.05"/>
<line x1="709.7" y1="470.45833333333337" x2="709.7" y2="473.6583333333334" stroke="#231f20" stroke-width="0.7" />
<rect x="686.3" y="476.75" width="27.0" height="3.2" rx="1.6" fill="#fff" stroke="#231f20" stroke-width="1.05"/>
<rect x="717.7" y="476.75" width="27.2" height="3.2" rx="1.6" fill="#fff" stroke="#231f20" stroke-width="1.05"/>
<line x1="709.7" y1="476.75" x2="709.7" y2="479.95000000000005" stroke="#231f20" stroke-width="0.7" />
<rect x="686.3" y="483.04" width="27.0" height="3.2" rx="1.6" fill="#fff" stroke="#231f20" stroke-width="1.05"/>
<rect x="717.7" y="483.04" width="27.2" height="3.2" rx="1.6" fill="#fff" stroke="#231f20" stroke-width="1.05"/>
<line x1="709.7" y1="483.0416666666667" x2="709.7" y2="486.24166666666673" stroke="#231f20" stroke-width="0.7" />
<rect x="686.3" y="489.33" width="27.0" height="3.2" rx="1.6" fill="#fff" stroke="#231f20" stroke-width="1.05"/>
<rect x="717.7" y="489.33" width="27.2" height="3.2" rx="1.6" fill="#8a8a8a" stroke="#231f20" stroke-width="1.05"/>
<rect x="686.3" y="495.62" width="27.0" height="3.2" rx="1.6" fill="#fff" stroke="#231f20" stroke-width="1.05"/>
<rect x="717.7" y="495.62" width="27.2" height="3.2" rx="1.6" fill="#fff" stroke="#231f20" stroke-width="1.05"/>
<line x1="727.4" y1="495.625" x2="727.4" y2="498.82500000000005" stroke="#231f20" stroke-width="0.7" />
<rect x="686.3" y="501.92" width="27.0" height="3.2" rx="1.6" fill="#fff" stroke="#231f20" stroke-width="1.05"/>
<rect x="717.7" y="501.92" width="27.2" height="3.2" rx="1.6" fill="#fff" stroke="#231f20" stroke-width="1.05"/>
<line x1="727.4" y1="501.9166666666667" x2="727.4" y2="505.11666666666673" stroke="#231f20" stroke-width="0.7" />
<rect x="686.3" y="508.21" width="27.0" height="3.2" rx="1.6" fill="#fff" stroke="#231f20" stroke-width="1.05"/>
<rect x="717.7" y="508.21" width="27.2" height="3.2" rx="1.6" fill="#fff" stroke="#231f20" stroke-width="1.05"/>
<line x1="727.4" y1="508.20833333333337" x2="727.4" y2="511.4083333333334" stroke="#231f20" stroke-width="0.7" />
<rect x="686.3" y="514.50" width="27.0" height="3.2" rx="1.6" fill="#fff" stroke="#231f20" stroke-width="1.05"/>
<rect x="717.7" y="514.50" width="27.2" height="3.2" rx="1.6" fill="#fff" stroke="#231f20" stroke-width="1.05"/>
<line x1="727.4" y1="514.5" x2="727.4" y2="517.7" stroke="#231f20" stroke-width="0.7" />
<rect x="736" y="457.40000000000003" width="7.5" height="2.6" fill="#231f20" stroke="none" stroke-width="1" rx="1" />
<ellipse cx="739.5" cy="496.6" rx="3.6" ry="1.6" fill="#231f20"/>
<polygon points="741,408.5 744,407.2 743.5,410.5" fill="#231f20" stroke="none" stroke-width="1"/>
<polygon points="741,427.5 744,426.2 743.5,429.5" fill="#231f20" stroke="none" stroke-width="1"/>
</g>
</svg>
</body>
</html>
